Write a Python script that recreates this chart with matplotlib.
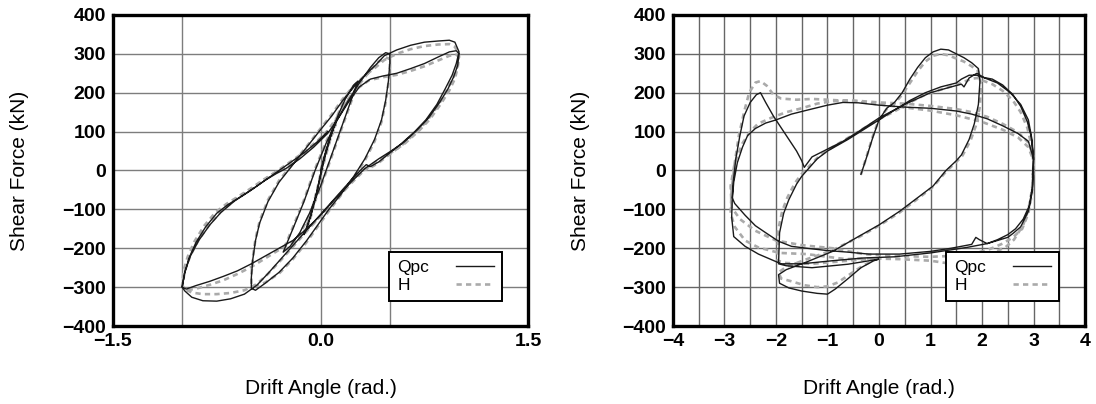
import matplotlib
matplotlib.use("Agg")
import matplotlib.pyplot as plt
from matplotlib.ticker import MultipleLocator, FixedLocator

plt.rcParams['font.family'] = ['Liberation Sans', 'DejaVu Sans']

# ---------------- data (drift angle, shear force) ----------------
left_qpc = [(0.0, 0), (0.04, 50), (0.08, 95), (0.11, 125), (0.07, 85), (0.02, 20), (-0.03, -60),
            (-0.07, -115), (-0.1, -150), (-0.12, -165), (-0.07, -115), (-0.02, -45), (0.03, 40),
            (0.08, 100), (0.13, 145), (0.18, 185), (0.24, 220), (0.27, 230),
            (0.22, 180), (0.15, 110), (0.08, 40), (0.0, -40), (-0.08, -110), (-0.15, -160),
            (-0.22, -195), (-0.27, -210),
            (-0.2, -150), (-0.12, -80), (-0.04, 0), (0.04, 70), (0.12, 130), (0.2, 180), (0.28, 225),
            (0.36, 265), (0.42, 290), (0.47, 303), (0.5, 300),
            (0.5, 275), (0.49, 230), (0.47, 180), (0.44, 130), (0.39, 80), (0.32, 30), (0.24, -15),
            (0.15, -60), (0.06, -100), (-0.02, -140), (-0.1, -180), (-0.2, -225), (-0.3, -262),
            (-0.4, -290), (-0.47, -308), (-0.5, -303),
            (-0.5, -275), (-0.49, -230), (-0.47, -180), (-0.44, -135), (-0.38, -80), (-0.3, -30),
            (-0.2, 15), (-0.1, 60), (0.0, 105), (0.08, 140), (0.16, 180), (0.24, 215), (0.32, 245),
            (0.4, 272), (0.46, 295),
            (0.55, 310), (0.65, 322), (0.75, 330), (0.85, 333), (0.93, 335), (0.97, 330), (1.0, 305),
            (0.98, 275), (0.95, 245), (0.9, 210), (0.84, 170), (0.76, 130), (0.68, 100), (0.58, 68),
            (0.5, 45), (0.42, 22), (0.36, 10), (0.33, 15), (0.3, 5), (0.22, -25), (0.12, -65),
            (0.02, -105), (-0.08, -145), (-0.18, -185), (-0.28, -225), (-0.38, -265), (-0.46, -295),
            (-0.55, -318), (-0.65, -330), (-0.75, -336), (-0.85, -335), (-0.93, -326), (-0.98, -310),
            (-1.0, -300),
            (-0.98, -262), (-0.95, -225), (-0.9, -185), (-0.83, -145), (-0.75, -110), (-0.67, -88),
            (-0.58, -68), (-0.48, -45), (-0.4, -25), (-0.32, -8), (-0.25, 5), (-0.15, 30),
            (-0.05, 60), (0.05, 95), (0.12, 130), (0.2, 175), (0.28, 215), (0.36, 235), (0.45, 243),
            (0.55, 250), (0.65, 262), (0.75, 275), (0.85, 292), (0.93, 305), (0.98, 308), (1.0, 300),
            (0.99, 270), (0.96, 240), (0.92, 210), (0.86, 175), (0.78, 135), (0.7, 105), (0.6, 72),
            (0.5, 48), (0.42, 30), (0.32, 5), (0.22, -30), (0.1, -75), (0.0, -115), (-0.1, -150),
            (-0.2, -180), (-0.3, -200), (-0.4, -220), (-0.5, -240), (-0.6, -258), (-0.7, -272),
            (-0.8, -285), (-0.9, -296), (-0.97, -305), (-1.0, -300),
            (-0.98, -260), (-0.94, -220), (-0.88, -180), (-0.8, -140), (-0.72, -108), (-0.62, -78),
            (-0.52, -55), (-0.42, -30), (-0.32, -5), (-0.22, 20), (-0.12, 45), (-0.02, 75), (0.05, 100)]

left_h = [(0.0, 0), (0.04, 48), (0.08, 92), (0.11, 120), (0.07, 80), (0.02, 15), (-0.03, -62),
          (-0.07, -118), (-0.1, -152), (-0.12, -160), (-0.07, -112), (-0.02, -42), (0.03, 42),
          (0.08, 102), (0.13, 148), (0.18, 188), (0.24, 218), (0.27, 225),
          (0.22, 176), (0.15, 106), (0.08, 36), (0.0, -44), (-0.08, -114), (-0.15, -164),
          (-0.22, -198), (-0.27, -205),
          (-0.2, -146), (-0.12, -76), (-0.04, 4), (0.04, 74), (0.12, 134), (0.2, 184), (0.28, 222),
          (0.36, 258), (0.42, 280), (0.47, 290), (0.5, 288),
          (0.5, 265), (0.49, 225), (0.47, 175), (0.44, 125), (0.39, 75), (0.32, 26), (0.24, -18),
          (0.15, -62), (0.06, -104), (-0.02, -144), (-0.1, -184), (-0.2, -228), (-0.3, -265),
          (-0.4, -288), (-0.47, -298), (-0.5, -295),
          (-0.5, -270), (-0.49, -226), (-0.47, -176), (-0.44, -130), (-0.38, -76), (-0.3, -26),
          (-0.2, 18), (-0.1, 62), (0.0, 108), (0.08, 144), (0.16, 184), (0.24, 218), (0.32, 244),
          (0.4, 266), (0.46, 284),
          (0.55, 300), (0.65, 312), (0.75, 320), (0.85, 324), (0.93, 325), (0.97, 318), (1.0, 298),
          (0.99, 270), (0.96, 240), (0.91, 205), (0.85, 168), (0.77, 128), (0.69, 98), (0.59, 66),
          (0.5, 42), (0.42, 20), (0.35, 5), (0.3, 0), (0.22, -28), (0.12, -68),
          (0.02, -108), (-0.08, -148), (-0.18, -188), (-0.28, -228), (-0.38, -266), (-0.46, -292),
          (-0.55, -308), (-0.65, -315), (-0.75, -318), (-0.85, -318), (-0.93, -314), (-0.98, -305),
          (-1.0, -295),
          (-0.99, -258), (-0.96, -222), (-0.91, -182), (-0.84, -142), (-0.76, -108), (-0.68, -86),
          (-0.59, -66), (-0.49, -43), (-0.41, -23), (-0.33, -6), (-0.26, 7), (-0.16, 32),
          (-0.06, 62), (0.04, 97), (0.11, 132), (0.19, 176), (0.27, 212), (0.35, 232), (0.45, 240),
          (0.55, 246), (0.65, 256), (0.75, 268), (0.85, 283), (0.93, 295), (0.98, 298), (1.0, 292),
          (0.99, 265), (0.97, 236), (0.93, 206), (0.87, 172), (0.79, 132), (0.71, 102), (0.61, 70),
          (0.51, 46), (0.42, 27), (0.32, 2), (0.22, -33), (0.1, -78), (0.0, -118), (-0.1, -153),
          (-0.2, -183), (-0.3, -204), (-0.4, -226), (-0.5, -248), (-0.6, -266), (-0.7, -282),
          (-0.8, -294), (-0.9, -304), (-0.97, -308), (-1.0, -298),
          (-0.98, -258), (-0.94, -218), (-0.88, -178), (-0.8, -138), (-0.72, -106), (-0.62, -76),
          (-0.52, -53), (-0.42, -28), (-0.32, -3), (-0.22, 22), (-0.12, 47), (-0.02, 77), (0.05, 102)]

right_qpc = [(-0.35, -10), (-0.25, 30), (-0.12, 85), (0.0, 130), (0.15, 160), (0.3, 175), (0.45, 200),
             (0.6, 235), (0.75, 265), (0.9, 290), (1.05, 305), (1.2, 312), (1.35, 310), (1.5, 300),
             (1.65, 290), (1.8, 277), (1.93, 262), (1.96, 230), (1.93, 170), (1.85, 120), (1.75, 80),
             (1.6, 40), (1.5, 25), (1.3, 0), (1.05, -40), (0.7, -75), (0.4, -105), (0.0, -140),
             (-0.4, -170), (-0.9, -208), (-1.4, -235), (-1.8, -255), (-1.95, -268),
             (-1.93, -290), (-1.75, -302), (-1.5, -310), (-1.2, -316), (-1.0, -318), (-0.85, -305),
             (-0.6, -278), (-0.35, -250), (-0.1, -232), (0.0, -228),
             (-0.6, -241), (-1.3, -250), (-1.8, -245), (-1.95, -240),
             (-1.93, -160), (-1.85, -110), (-1.75, -75), (-1.6, -35), (-1.5, -15), (-1.4, 0),
             (-1.2, 30), (-1.0, 50), (-0.8, 65), (-0.6, 80), (-0.3, 105), (0.0, 130), (0.3, 155),
             (0.6, 180), (0.9, 200), (1.2, 215), (1.5, 225), (1.6, 235), (1.75, 245), (1.9, 245),
             (2.0, 240),
             (2.2, 235), (2.4, 220), (2.6, 195), (2.75, 165), (2.88, 125), (2.95, 90), (3.0, 35),
             (2.98, -40), (2.92, -90), (2.8, -125), (2.65, -150), (2.5, -165), (2.3, -178),
             (2.1, -188), (1.95, -178), (1.88, -172), (1.8, -190), (1.6, -195), (1.4, -200),
             (1.0, -208), (0.4, -215), (-0.2, -215), (-0.6, -210), (-1.0, -206), (-1.4, -200),
             (-1.7, -195), (-1.95, -182), (-2.2, -160), (-2.4, -142), (-2.6, -115), (-2.8, -85),
             (-2.85, -70),
             (-2.83, -30), (-2.78, 30), (-2.7, 90), (-2.62, 140), (-2.5, 175), (-2.38, 195),
             (-2.3, 200), (-2.2, 175), (-2.05, 140), (-1.9, 110), (-1.75, 80), (-1.6, 50),
             (-1.5, 25), (-1.45, 8), (-1.3, 35), (-1.0, 55), (-0.7, 75), (-0.4, 100), (0.0, 135),
             (0.5, 170), (1.0, 200), (1.4, 215), (1.6, 222), (1.65, 215), (1.75, 238), (1.9, 250),
             (2.05, 238),
             (2.3, 225), (2.55, 200), (2.75, 170), (2.9, 130), (2.97, 80), (3.0, 25),
             (2.98, -50), (2.9, -105), (2.75, -145), (2.6, -162), (2.5, -172), (2.1, -188),
             (1.7, -198), (1.0, -212), (0.3, -222), (-0.3, -225), (-0.9, -232), (-1.5, -240),
             (-1.9, -240), (-2.34, -215), (-2.6, -195), (-2.82, -170), (-2.86, -120), (-2.85, -80),
             (-2.82, -30), (-2.75, 20), (-2.65, 60), (-2.55, 90), (-2.4, 108), (-2.2, 122),
             (-2.0, 130), (-1.7, 145), (-1.4, 155), (-1.0, 168), (-0.7, 175), (-0.4, 174),
             (0.0, 168), (0.5, 163), (1.0, 160), (1.5, 153), (1.8, 145), (2.1, 133), (2.4, 115),
             (2.7, 95), (2.9, 75), (3.0, 30)]

right_h = [(-0.35, -10), (-0.25, 32), (-0.12, 88), (0.0, 132), (0.15, 158), (0.3, 172), (0.45, 195),
           (0.6, 225), (0.75, 255), (0.9, 280), (1.05, 295), (1.2, 300), (1.35, 296), (1.5, 288),
           (1.65, 280), (1.8, 268), (1.93, 255), (1.98, 220), (1.96, 165), (1.88, 115), (1.78, 78),
           (1.62, 38), (1.5, 22), (1.3, -3), (1.05, -42), (0.7, -78), (0.4, -108), (0.0, -142),
           (-0.4, -172), (-0.9, -205), (-1.4, -228), (-1.8, -248), (-1.95, -262),
           (-1.9, -278), (-1.7, -285), (-1.45, -295), (-1.2, -300), (-1.0, -298), (-0.8, -288),
           (-0.6, -270), (-0.35, -248), (-0.1, -230), (0.0, -226),
           (-0.6, -232), (-1.3, -240), (-1.8, -238), (-1.97, -232),
           (-1.96, -155), (-1.88, -105), (-1.78, -70), (-1.63, -32), (-1.52, -12), (-1.42, 2),
           (-1.2, 32), (-1.0, 52), (-0.8, 68), (-0.6, 84), (-0.3, 108), (0.0, 132), (0.3, 152),
           (0.6, 175), (0.9, 195), (1.2, 208), (1.5, 220), (1.65, 228), (1.8, 236), (1.92, 238),
           (2.0, 232),
           (2.2, 222), (2.4, 205), (2.6, 180), (2.75, 150), (2.88, 110), (2.95, 70), (3.0, 20),
           (2.97, -50), (2.9, -100), (2.8, -140), (2.62, -178), (2.45, -198), (2.2, -212),
           (2.0, -222), (1.7, -238), (1.4, -240), (1.0, -232), (0.4, -228), (-0.2, -226),
           (-0.64, -228), (-1.0, -222), (-1.4, -215), (-1.93, -212), (-2.34, -198),
           (-2.6, -180), (-2.8, -145), (-2.88, -110),
           (-2.86, -50), (-2.8, 20), (-2.72, 90), (-2.62, 150), (-2.52, 200), (-2.4, 226),
           (-2.3, 230), (-2.18, 218), (-2.05, 195), (-1.9, 185), (-1.6, 182), (-1.3, 184),
           (-1.0, 182), (-0.5, 178), (0.0, 170), (0.5, 162), (1.0, 154), (1.5, 142), (2.0, 125),
           (2.4, 105), (2.7, 85), (2.9, 60), (3.0, 25),
           (2.97, -60), (2.9, -110), (2.78, -150), (2.6, -172), (2.4, -188), (2.1, -205),
           (1.7, -218), (1.0, -222), (0.3, -220), (-0.3, -215), (-0.9, -200), (-1.5, -192),
           (-2.0, -180), (-2.4, -155), (-2.7, -125), (-2.86, -95), (-2.88, -40),
           (-2.8, 20), (-2.65, 70), (-2.5, 100), (-2.35, 120), (-2.1, 135), (-1.8, 150),
           (-1.5, 160), (-1.2, 172), (-0.9, 178), (-0.5, 180), (0.0, 175), (0.5, 172),
           (1.0, 166), (1.5, 158), (1.8, 150), (2.1, 138), (2.4, 120), (2.7, 98), (2.9, 72),
           (3.0, 35)]

left_xticks = [-1.5, 0.0, 1.5]
left_xticklabels = ["\u22121.5", "0.0", "1.5"]
left_xgrid = [-1.0, 0.0, 0.5]
right_xticks = [-4, -3, -2, -1, 0, 1, 2, 3, 4]
yticks = [-400, -300, -200, -100, 0, 100, 200, 300, 400]
series_labels = ["Qpc", "H"]

# ---------------- figure ----------------
fig = plt.figure(figsize=(10.96, 4.04), dpi=100)
axL = fig.add_axes([0.103, 0.193, 0.379, 0.770])
axR = fig.add_axes([0.614, 0.193, 0.376, 0.770])

BLACK = "#1a1a1a"
GREY = "#aaaaaa"


def style(ax, xlim, gridcolor):
    ax.set_xlim(*xlim)
    ax.set_ylim(-400, 400)
    ax.set_yticks(yticks)
    for s in ax.spines.values():
        s.set_linewidth(2.4)
        s.set_color("black")
    ax.tick_params(which="both", length=0, labelsize=14, pad=5)
    ax.grid(True, which="both", color=gridcolor, linewidth=1.0)
    ax.set_axisbelow(True)
    ax.set_xlabel("Drift Angle (rad.)", fontsize=15)
    ax.set_ylabel("Shear Force (kN)", fontsize=15)
    ax.xaxis.set_label_coords(0.5, -0.17)
    ax.yaxis.set_label_coords(-0.201, 0.5)


def bold_ticks(ax):
    for lab in ax.get_xticklabels() + ax.get_yticklabels():
        lab.set_fontweight("bold")


def draw(ax, q, h):
    ax.plot([p[0] for p in q], [p[1] for p in q], color=BLACK, lw=1.0, label=series_labels[0], zorder=3)
    ax.plot([p[0] for p in h], [p[1] for p in h], color=GREY, lw=1.9, dashes=(2.0, 1.6),
            label=series_labels[1], zorder=2)
    leg = ax.legend(loc="lower right", bbox_to_anchor=(0.937, 0.08), markerfirst=False,
                    fontsize=12.5, frameon=True, fancybox=False, framealpha=1, edgecolor="black",
                    handlelength=2.2, borderpad=0.45, labelspacing=0.2, handletextpad=1.0,
                    borderaxespad=0)
    leg.get_frame().set_linewidth(1.4)
    leg.set_zorder(5)
    # left-align labels, right-align handles inside a fixed row width
    for col in leg._legend_handle_box.get_children():
        for row in col.get_children():
            row.mode = "expand"
            row.width = 97


draw(axL, left_qpc, left_h)
style(axL, (-1.5, 1.5), "#7d7d7d")
axL.set_xticks(left_xticks)
axL.set_xticklabels(left_xticklabels)
axL.xaxis.set_minor_locator(FixedLocator([v for v in left_xgrid if v not in left_xticks]))
axL.xaxis.grid(False, which="major")
axL.xaxis.grid(True, which="minor", color="#7d7d7d", linewidth=1.0)
for v in left_xgrid:
    if v in left_xticks:
        axL.axvline(v, color="#7d7d7d", lw=1.0, zorder=0.5)
bold_ticks(axL)

draw(axR, right_qpc, right_h)
style(axR, (-4, 4), "#666666")
axR.set_xticks(right_xticks)
axR.xaxis.set_minor_locator(MultipleLocator(0.5))
bold_ticks(axR)

fig.savefig("out.png", dpi=100)
